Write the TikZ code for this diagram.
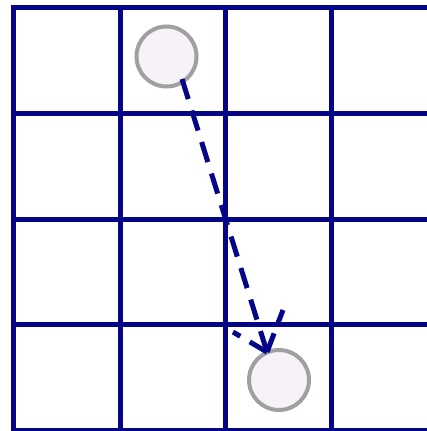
\documentclass[tikz,border=0pt]{standalone}
\usetikzlibrary{calc}
\definecolor{gridblue}{RGB}{5,5,135}
\definecolor{ringgray}{RGB}{160,160,160}
\definecolor{ballfill}{RGB}{246,242,247}
\tikzset{
  gridline/.style={draw=gridblue, line width=5pt},
  ball/.style={circle, draw=ringgray, line width=4pt, fill=ballfill, minimum size=60pt, inner sep=0pt},
  movedash/.style={draw=gridblue, line width=5pt, dash pattern=on 21pt off 12pt},
  barbdash/.style={draw=gridblue, line width=5pt, dash pattern=on 20pt off 11pt}
}
\begin{document}
\begin{tikzpicture}[x=1pt, y=-1pt]
  \useasboundingbox (0,0) rectangle (427,431);
  \fill[white] (0,0) rectangle (427,431);
  % grid
  \foreach \gx in {13,120,225,331} {
    \draw[gridline] (\gx,4.5) -- (\gx,431);
  }
  \foreach \gy in {7,113,219,324,430} {
    \draw[gridline] (10.5,\gy) -- (427,\gy);
  }
  % balls
  \node[ball] (c1) at (166.5,56.5) {};
  \node[ball] (c2) at (279,380) {};
  % move arrow
  \coordinate (start) at (182,79);
  \coordinate (tip) at (267,352);
  \coordinate (barbL) at ($(tip)+(-34,-20)$);
  \coordinate (barbR) at ($(tip)+(16,-42)$);
  \draw[movedash] (start) -- (tip);
  \draw[barbdash] (tip) -- (barbL);
  \draw[barbdash] (tip) -- (barbR);
\end{tikzpicture}
\end{document}
